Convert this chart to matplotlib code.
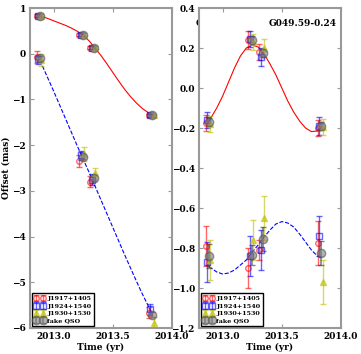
import matplotlib
matplotlib.use('Agg')
import matplotlib.pyplot as plt

plt.rcParams['font.family'] = 'DejaVu Serif'
plt.rcParams['font.weight'] = 'bold'
plt.rcParams['font.size'] = 6.5

# epochs (fake QSO); the calibrators are plotted slightly shifted in time
t_qso = [2012.885, 2013.245, 2013.340, 2013.835]
t_j1917 = [2012.855, 2013.215, 2013.310, 2013.805]
t_j1924 = [2012.868, 2013.228, 2013.323, 2013.818]
t_j1930 = [2012.897, 2013.257, 2013.352, 2013.847]

# left panel, upper track
l1_j1917 = [0.83, 0.42, 0.13, -1.35]
l1_j1924 = [0.83, 0.42, 0.13, -1.35]
l1_j1930 = [0.83, 0.42, 0.13, -1.35]
l1_qso = [0.83, 0.42, 0.13, -1.35]
l1_err = [0.03, 0.03, 0.03, 0.03]

# left panel, lower track
l2_j1917 = [-0.08, -2.34, -2.80, -5.67]
l2_j1924 = [-0.12, -2.22, -2.76, -5.59]
l2_j1930 = [-0.13, -2.20, -2.62, -5.89]
l2_qso = [-0.10, -2.25, -2.72, -5.71]
l2_err_j1917 = [0.13, 0.13, 0.12, 0.12]
l2_err_j1924 = [0.10, 0.10, 0.12, 0.12]
l2_err_j1930 = [0.13, 0.15, 0.12, 0.12]
l2_err_qso = [0.06, 0.06, 0.06, 0.06]

# right panel, upper track
r1_j1917 = [-0.173, 0.24, 0.18, -0.20]
r1_j1924 = [-0.16, 0.247, 0.155, -0.19]
r1_j1930 = [-0.18, 0.23, 0.20, -0.195]
r1_qso = [-0.17, 0.24, 0.175, -0.19]
r1_err_j1917 = [0.04, 0.045, 0.04, 0.04]
r1_err_j1924 = [0.04, 0.04, 0.045, 0.045]
r1_err_j1930 = [0.04, 0.04, 0.045, 0.04]
r1_err_qso = [0.02, 0.02, 0.02, 0.02]

# right panel, lower track
r2_j1917 = [-0.79, -0.90, -0.81, -0.777]
r2_j1924 = [-0.87, -0.84, -0.81, -0.74]
r2_j1930 = [-0.86, -0.76, -0.65, -0.97]
r2_qso = [-0.84, -0.837, -0.757, -0.827]
r2_err_j1917 = [0.10, 0.10, 0.05, 0.11]
r2_err_j1924 = [0.10, 0.10, 0.10, 0.10]
r2_err_j1930 = [0.10, 0.10, 0.11, 0.11]
r2_err_qso = [0.06, 0.05, 0.06, 0.06]

# fitted tracks
fit_t = [2012.885, 2012.95, 2013.0, 2013.05, 2013.1, 2013.15, 2013.2, 2013.25,
         2013.3, 2013.35, 2013.4, 2013.45, 2013.5, 2013.55, 2013.6, 2013.65,
         2013.7, 2013.75, 2013.8, 2013.835]
fit_l1 = [0.83, 0.77, 0.72, 0.67, 0.62, 0.56, 0.49, 0.40,
          0.28, 0.12, -0.04, -0.22, -0.41, -0.60, -0.78, -0.94,
          -1.08, -1.20, -1.29, -1.35]
fit_l2 = [-0.15, -0.53, -0.82, -1.12, -1.42, -1.72, -2.02, -2.31,
          -2.60, -2.90, -3.20, -3.50, -3.80, -4.10, -4.40, -4.69,
          -4.98, -5.26, -5.52, -5.70]
fit_r1 = [-0.165, -0.10, -0.04, 0.03, 0.10, 0.16, 0.20, 0.215,
          0.205, 0.17, 0.12, 0.065, 0.0, -0.065, -0.12, -0.165,
          -0.20, -0.218, -0.215, -0.20]
fit_r2 = [-0.893, -0.92, -0.93, -0.925, -0.91, -0.885, -0.86, -0.82,
          -0.785, -0.745, -0.71, -0.68, -0.668, -0.675, -0.695, -0.73,
          -0.77, -0.81, -0.84, -0.85]

labels = ['J1917+1405', 'J1924+1540', 'J1930+1530', 'fake QSO']
spine_col = '#999999'

fig = plt.figure(figsize=(3.61, 3.54), dpi=100)
ax1 = fig.add_axes([30 / 361., 26 / 354., 142 / 361., 320 / 354.])
ax2 = fig.add_axes([199 / 361., 26 / 354., 142 / 361., 320 / 354.])


def draw_sources(ax, a, b, c, q, ea, eb, ec, eq):
    h1 = ax.errorbar(t_j1917, a, yerr=ea, fmt='o', color='r', mfc='none', mec='r',
                     ms=4, alpha=0.6, capsize=2, elinewidth=1, label=labels[0])
    h2 = ax.errorbar(t_j1924, b, yerr=eb, fmt='s', color='b', mfc='none', mec='b',
                     ms=4, alpha=0.6, capsize=2, elinewidth=1, label=labels[1])
    h3 = ax.errorbar(t_j1930, c, yerr=ec, fmt='^', color='y', mfc='y', mec='y',
                     ms=4, alpha=0.6, capsize=2, elinewidth=1, label=labels[2])
    h4 = ax.errorbar(t_qso, q, yerr=eq, fmt='o', color='#333333', mfc='gray', mec='#555555',
                     ms=6, alpha=0.6, capsize=2, elinewidth=1.2, label=labels[3])
    return [h1, h2, h3, h4]


def add_legend(ax, hs):
    ax.legend(handles=hs, loc='lower left', numpoints=2, fontsize=4.6, handlelength=1.6,
              handletextpad=0.4, borderpad=0.4, labelspacing=0.3, borderaxespad=0.3,
              fancybox=False, framealpha=1, edgecolor='black')


for ax in (ax1, ax2):
    ax.set_xlim(2012.8, 2014.0)
    ax.set_xticks([2013.0, 2013.5, 2014.0])
    ax.set_xticklabels(['2013.0', '2013.5', '2014.0'])
    ax.tick_params(direction='in', top=True, right=True, length=3, width=0.8,
                   color=spine_col, pad=3, labelsize=6.5)
    for s in ax.spines.values():
        s.set_color(spine_col)
        s.set_linewidth(1.5)
    ax.set_xlabel('Time (yr)', fontsize=6.5, fontweight='bold', labelpad=1)

# left panel
ax1.plot(fit_t, fit_l1, '-', color='r', lw=0.8)
ax1.plot(fit_t, fit_l2, '--', color='b', lw=0.8)
draw_sources(ax1, l1_j1917, l1_j1924, l1_j1930, l1_qso, l1_err, l1_err, l1_err, l1_err)
hs = draw_sources(ax1, l2_j1917, l2_j1924, l2_j1930, l2_qso,
                  l2_err_j1917, l2_err_j1924, l2_err_j1930, l2_err_qso)
ax1.set_ylim(-6, 1)
ax1.set_yticks(range(-6, 2))
ax1.set_ylabel('Offset (mas)', fontsize=6.5, fontweight='bold', labelpad=1)
ax1.text(1.167, 0.95, 'G049.59-0.24', transform=ax1.transAxes, ha='left', va='center',
         fontsize=6.5, fontweight='bold')
add_legend(ax1, hs)

# right panel
ax2.plot(fit_t, fit_r1, '-', color='r', lw=0.8)
ax2.plot(fit_t, fit_r2, '--', color='b', lw=0.8)
draw_sources(ax2, r1_j1917, r1_j1924, r1_j1930, r1_qso,
             r1_err_j1917, r1_err_j1924, r1_err_j1930, r1_err_qso)
hs = draw_sources(ax2, r2_j1917, r2_j1924, r2_j1930, r2_qso,
                  r2_err_j1917, r2_err_j1924, r2_err_j1930, r2_err_qso)
ax2.set_ylim(-1.2, 0.4)
ax2.set_yticks([-1.2, -1.0, -0.8, -0.6, -0.4, -0.2, 0.0, 0.2, 0.4])
ax2.text(0.97, 0.95, 'G049.59-0.24', transform=ax2.transAxes, ha='right', va='center',
         fontsize=6.5, fontweight='bold')
add_legend(ax2, hs)

fig.savefig('out.png', dpi=100)
